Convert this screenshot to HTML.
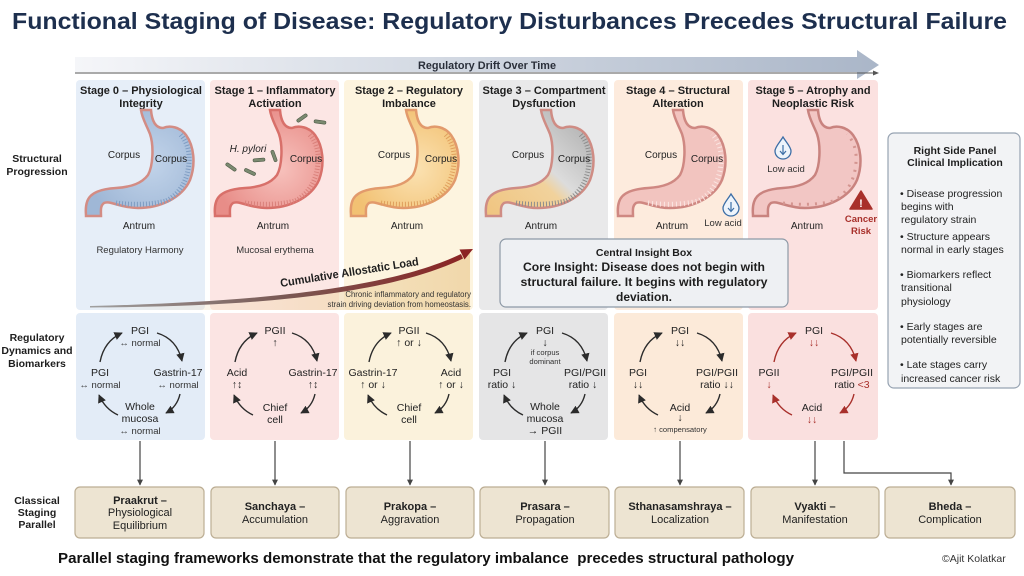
<!DOCTYPE html>
<html><head><meta charset="utf-8">
<style>
html,body{margin:0;padding:0;background:#fff;}
svg{display:block;}
text{font-family:"Liberation Sans",Arial,sans-serif;fill:#222;}
.t{font-size:11px;font-weight:bold;text-anchor:middle;fill:#1e1e1e;}
.row{font-size:10.5px;font-weight:bold;text-anchor:middle;fill:#1e1e1e;}
.l{font-size:10.5px;text-anchor:middle;fill:#222;}
.s{font-size:9.5px;text-anchor:middle;fill:#333;}
.xs{font-size:7.6px;text-anchor:middle;fill:#333;}
.c{font-size:10px;text-anchor:middle;fill:#222;}
.bx{font-size:11px;text-anchor:middle;fill:#222;}
.bb{font-size:11px;font-weight:bold;text-anchor:middle;fill:#222;}
.rp{font-size:10.5px;fill:#222;}
.red{fill:#a8302b;}
</style></head><body>
<svg width="1024" height="576" viewBox="0 0 1024 576" xmlns="http://www.w3.org/2000/svg">
<defs>
 <linearGradient id="band" x1="0" y1="0" x2="1" y2="0">
  <stop offset="0" stop-color="#f5f6f9"/><stop offset="1" stop-color="#aab6c8"/>
 </linearGradient>
 <linearGradient id="tan" x1="90" y1="0" x2="470" y2="0" gradientUnits="userSpaceOnUse">
  <stop offset="0" stop-color="#f0d6a8" stop-opacity="0"/><stop offset="0.45" stop-color="#f0d6a8" stop-opacity="0.35"/><stop offset="1" stop-color="#f0d6a8" stop-opacity="0.95"/>
 </linearGradient>
 <linearGradient id="load" x1="90" y1="0" x2="470" y2="0" gradientUnits="userSpaceOnUse">
  <stop offset="0" stop-color="#a0a0a0"/><stop offset="0.5" stop-color="#7a5a55"/><stop offset="1" stop-color="#8b2222"/>
 </linearGradient>
 <linearGradient id="s3" x1="0" y1="1" x2="1" y2="0">
  <stop offset="0" stop-color="#f0c47f"/><stop offset="0.42" stop-color="#f1d29c"/><stop offset="0.52" stop-color="#dcdcdc"/><stop offset="1" stop-color="#a8a8a8"/>
 </linearGradient>
 <radialGradient id="s1g" cx="0.6" cy="0.55" r="0.6">
  <stop offset="0" stop-color="#f7c2bd"/><stop offset="1" stop-color="#e88d88"/>
 </radialGradient>
 <radialGradient id="s2g" cx="0.6" cy="0.55" r="0.6">
  <stop offset="0" stop-color="#fbe2b2"/><stop offset="1" stop-color="#f2c173"/>
 </radialGradient>
 <radialGradient id="s0g" cx="0.6" cy="0.5" r="0.6">
  <stop offset="0" stop-color="#c2d4ea"/><stop offset="1" stop-color="#9fb7d6"/>
 </radialGradient>
 <marker id="a" viewBox="0 0 10 10" refX="9" refY="5" markerWidth="6" markerHeight="6" orient="auto"><path d="M0,0L10,5L0,10z" fill="#2b2b2b"/></marker>
 <marker id="ar" viewBox="0 0 10 10" refX="9" refY="5" markerWidth="6" markerHeight="6" orient="auto"><path d="M0,0L10,5L0,10z" fill="#a8302b"/></marker>
 <marker id="ad" viewBox="0 0 10 10" refX="9" refY="5" markerWidth="5" markerHeight="5" orient="auto"><path d="M0,0L10,5L0,10z" fill="#444"/></marker>
</defs>

<!-- Title -->
<text x="12" y="29" font-size="23" font-weight="bold" style="fill:#1d2f4e" textLength="995" lengthAdjust="spacingAndGlyphs">Functional Staging of Disease: Regulatory Disturbances Precedes Structural Failure</text>

<!-- Regulatory drift band -->
<path d="M75,57 L857,57 L857,50 L879,65 L857,79 L857,72 L75,72 Z" fill="url(#band)"/>
<line x1="75" y1="73" x2="874" y2="73" stroke="#555" stroke-width="0.9"/>
<path d="M873,70.5 L879,73 L873,75.5 Z" fill="#555"/>
<text x="487" y="69" font-size="11" font-weight="bold" text-anchor="middle" style="fill:#2a2f3a" textLength="138" lengthAdjust="spacingAndGlyphs">Regulatory Drift Over Time</text>

<!-- Top panels -->
<rect x="76" y="80" width="129" height="230" rx="4" fill="#e6eef8"/>
<rect x="210" y="80" width="129" height="230" rx="4" fill="#fce6e4"/>
<rect x="344" y="80" width="129" height="230" rx="4" fill="#fdf4df"/>
<rect x="479" y="80" width="129" height="230" rx="4" fill="#e9e9ea"/>
<rect x="614" y="80" width="129" height="230" rx="4" fill="#fdebdd"/>
<rect x="748" y="80" width="130" height="230" rx="4" fill="#fbe1e0"/>

<!-- Lower panels -->
<rect x="76" y="313" width="129" height="127" rx="4" fill="#e3ecf7"/>
<rect x="210" y="313" width="129" height="127" rx="4" fill="#fbe4e3"/>
<rect x="344" y="313" width="129" height="127" rx="4" fill="#fbf2dc"/>
<rect x="479" y="313" width="129" height="127" rx="4" fill="#e5e5e6"/>
<rect x="614" y="313" width="129" height="127" rx="4" fill="#fcead9"/>
<rect x="748" y="313" width="130" height="127" rx="4" fill="#fae0df"/>

<!-- Row labels -->
<text class="row" x="37" y="162">Structural</text>
<text class="row" x="37" y="175">Progression</text>
<text class="row" x="37" y="341">Regulatory</text>
<text class="row" x="37" y="354">Dynamics and</text>
<text class="row" x="37" y="367">Biomarkers</text>
<text class="row" x="37" y="504">Classical</text>
<text class="row" x="37" y="516">Staging</text>
<text class="row" x="37" y="528">Parallel</text>

<!-- Stage titles -->
<text class="t" x="141" y="94" textLength="122" lengthAdjust="spacingAndGlyphs">Stage 0 – Physiological</text>
<text class="t" x="141" y="107">Integrity</text>
<text class="t" x="275" y="94" textLength="121" lengthAdjust="spacingAndGlyphs">Stage 1 – Inflammatory</text>
<text class="t" x="275" y="107">Activation</text>
<text class="t" x="409" y="94" textLength="108" lengthAdjust="spacingAndGlyphs">Stage 2 – Regulatory</text>
<text class="t" x="409" y="107">Imbalance</text>
<text class="t" x="544" y="94" textLength="123" lengthAdjust="spacingAndGlyphs">Stage 3 – Compartment</text>
<text class="t" x="544" y="107">Dysfunction</text>
<text class="t" x="678" y="94" textLength="104" lengthAdjust="spacingAndGlyphs">Stage 4 – Structural</text>
<text class="t" x="678" y="107">Alteration</text>
<text class="t" x="813" y="94" textLength="115" lengthAdjust="spacingAndGlyphs">Stage 5 – Atrophy and</text>
<text class="t" x="813" y="107">Neoplastic Risk</text>

<!-- Stomachs -->
<g transform="translate(76,110)">
 <path d="M65,0 C66,8 70,14 74,24 C78,36 77,56 72,65 C66,73 56,77 40,78 C26,79 14,82 11,92 C9,98 10,102 10,106 L25,106 C25,101 24,96 28,93 C34,90 44,98 62,98 C84,98 106,88 114,70 C120,54 118,36 110,25 C104,17 94,15 87,18 C80,18 76,12 75,0 Z" fill="url(#s0g)" stroke="#d38c84" stroke-width="2.5"/>
 <path d="M40,93 C55,95 75,95 90,91 C104,84 112,70 113,52 C114,40 110,30 104,24" fill="none" stroke="#7e9cc2" stroke-width="5" stroke-dasharray="1 2"/>
</g>
<g transform="translate(205,110)">
 <path d="M65,0 C66,8 70,14 74,24 C78,36 77,56 72,65 C66,73 56,77 40,78 C26,79 14,82 11,92 C9,98 10,102 10,106 L25,106 C25,101 24,96 28,93 C34,90 44,98 62,98 C84,98 106,88 114,70 C120,54 118,36 110,25 C104,17 94,15 87,18 C80,18 76,12 75,0 Z" fill="url(#s1g)" stroke="#d8706a" stroke-width="2.5"/>
 <path d="M40,93 C55,95 75,95 90,91 C104,84 112,70 113,52 C114,40 110,30 104,24" fill="none" stroke="#d9807a" stroke-width="5" stroke-dasharray="1 2"/>
</g>
<g transform="translate(341,110)">
 <path d="M65,0 C66,8 70,14 74,24 C78,36 77,56 72,65 C66,73 56,77 40,78 C26,79 14,82 11,92 C9,98 10,102 10,106 L25,106 C25,101 24,96 28,93 C34,90 44,98 62,98 C84,98 106,88 114,70 C120,54 118,36 110,25 C104,17 94,15 87,18 C80,18 76,12 75,0 Z" fill="url(#s2g)" stroke="#e29a6c" stroke-width="2.5"/>
 <path d="M40,93 C55,95 75,95 90,91 C104,84 112,70 113,52 C114,40 110,30 104,24" fill="none" stroke="#df9f5c" stroke-width="5" stroke-dasharray="1 2"/>
</g>
<g transform="translate(476,110)">
 <path d="M65,0 C66,8 70,14 74,24 C78,36 77,56 72,65 C66,73 56,77 40,78 C26,79 14,82 11,92 C9,98 10,102 10,106 L25,106 C25,101 24,96 28,93 C34,90 44,98 62,98 C84,98 106,88 114,70 C120,54 118,36 110,25 C104,17 94,15 87,18 C80,18 76,12 75,0 Z" fill="url(#s3)" stroke="#cf8c84" stroke-width="2.5"/>
 <path d="M40,93 C55,95 75,95 90,91 C104,84 112,70 113,52 C114,40 110,30 104,24" fill="none" stroke="#8c8c8c" stroke-width="5" stroke-dasharray="1 2"/>
</g>
<g transform="translate(608,110)">
 <path d="M65,0 C66,8 70,14 74,24 C78,36 77,56 72,65 C66,73 56,77 40,78 C26,79 14,82 11,92 C9,98 10,102 10,106 L25,106 C25,101 24,96 28,93 C34,90 44,98 62,98 C84,98 106,88 114,70 C120,54 118,36 110,25 C104,17 94,15 87,18 C80,18 76,12 75,0 Z" fill="#f2c4bf" stroke="#cf8882" stroke-width="2.5"/>
 <path d="M40,93 C55,95 75,95 90,91 C104,84 112,70 113,52 C114,40 110,30 104,24" fill="none" stroke="#fbe6e3" stroke-width="5" stroke-dasharray="1 3"/>
</g>
<g transform="translate(743,110)">
 <path d="M65,0 C66,8 70,14 74,24 C78,36 77,56 72,65 C66,73 56,77 40,78 C26,79 14,82 11,92 C9,98 10,102 10,106 L25,106 C25,101 24,96 28,93 C34,90 44,98 62,98 C84,98 106,88 114,70 C120,54 118,36 110,25 C104,17 94,15 87,18 C80,18 76,12 75,0 Z" fill="#f2c6c4" stroke="#c9837f" stroke-width="2.5"/>
 <path d="M40,93 C55,95 75,95 90,91 C104,84 112,70 113,52 C114,40 110,30 104,24" fill="none" stroke="#d49590" stroke-width="3" stroke-dasharray="2 6"/>
</g>

<!-- Bacteria (H. pylori) -->
<g fill="#7b8a70" stroke="#4e5a47" stroke-width="0.6">
 <rect x="-6" y="-1.6" width="12" height="3.2" rx="1.6" transform="translate(231,167) rotate(35)"/>
 <rect x="-6" y="-1.6" width="12" height="3.2" rx="1.6" transform="translate(250,172) rotate(25)"/>
 <rect x="-6" y="-1.6" width="12" height="3.2" rx="1.6" transform="translate(259,160) rotate(-5)"/>
 <rect x="-6" y="-1.6" width="12" height="3.2" rx="1.6" transform="translate(274,156) rotate(70)"/>
 <rect x="-6" y="-1.6" width="12" height="3.2" rx="1.6" transform="translate(302,118) rotate(-35)"/>
 <rect x="-6" y="-1.6" width="12" height="3.2" rx="1.6" transform="translate(320,122) rotate(8)"/>
</g>
<text x="248" y="152" font-size="10" font-style="italic" text-anchor="middle">H. pylori</text>

<!-- Stomach labels -->
<text class="c" x="124" y="158">Corpus</text><text class="c" x="171" y="162">Corpus</text><text class="c" x="139" y="229">Antrum</text>
<text class="s" x="140" y="253">Regulatory Harmony</text>
<text class="c" x="306" y="162">Corpus</text><text class="c" x="273" y="229">Antrum</text>
<text class="s" x="275" y="253">Mucosal erythema</text>
<text class="c" x="394" y="158">Corpus</text><text class="c" x="441" y="162">Corpus</text><text class="c" x="407" y="229">Antrum</text>
<text class="c" x="528" y="158">Corpus</text><text class="c" x="574" y="162">Corpus</text><text class="c" x="541" y="229">Antrum</text>
<text class="c" x="661" y="158">Corpus</text><text class="c" x="707" y="162">Corpus</text><text class="c" x="672" y="229">Antrum</text>
<text class="c" x="807" y="229">Antrum</text>

<!-- Drops -->
<g fill="#eef4fb" stroke="#3c6ea6" stroke-width="1.3">
 <path d="M731,194 C734,199 739,204 739,208 A8,8 0 0 1 723,208 C723,204 728,199 731,194 Z"/>
 <path d="M783,137 C786,142 791,147 791,151 A8,8 0 0 1 775,151 C775,147 780,142 783,137 Z"/>
</g>
<g stroke="#3c6ea6" stroke-width="1.2" fill="none">
 <line x1="731" y1="202" x2="731" y2="211"/><path d="M728,208 L731,211.5 L734,208"/>
 <line x1="783" y1="145" x2="783" y2="154"/><path d="M780,151 L783,154.5 L786,151"/>
</g>
<text class="s" x="723" y="226">Low acid</text>
<text class="s" x="786" y="172">Low acid</text>

<!-- Cancer risk -->
<path d="M861,191 L872,209 L850,209 Z" fill="#a8302b" stroke="#a8302b" stroke-width="1.5" stroke-linejoin="round"/>
<text x="861" y="207" font-size="11" font-weight="bold" text-anchor="middle" style="fill:#fff">!</text>
<text x="861" y="222" font-size="9.5" font-weight="bold" text-anchor="middle" class="red">Cancer</text>
<text x="861" y="234" font-size="9.5" font-weight="bold" text-anchor="middle" class="red">Risk</text>

<!-- Allostatic load -->
<path d="M90,308 C260,304 390,290 470,252 L470,310 L90,310 Z" fill="url(#tan)"/>
<path d="M90,306 C260,302 390,288 461,254 L463,258.5 C392,293 262,307 90,307.5 Z" fill="url(#load)"/>
<path d="M473,249 L459.5,249.5 L464.5,259.5 Z" fill="#8b2222"/>
<text transform="translate(350,276) rotate(-9)" font-size="11.5" font-weight="bold" text-anchor="middle" style="fill:#1e1e1e" textLength="140" lengthAdjust="spacingAndGlyphs">Cumulative Allostatic Load</text>
<text x="471" y="297" font-size="7.8" text-anchor="end" style="fill:#333">Chronic inflammatory and regulatory</text>
<text x="471" y="307" font-size="7.8" text-anchor="end" style="fill:#333">strain driving deviation from homeostasis.</text>

<!-- Central insight box -->
<rect x="500" y="239" width="288" height="68" rx="6" fill="#eef0f3" stroke="#8d99a6" stroke-width="1.2"/>
<text x="644" y="256" font-size="10.5" font-weight="bold" text-anchor="middle" style="fill:#1e1e1e">Central Insight Box</text>
<text x="644" y="271" font-size="12" font-weight="bold" text-anchor="middle" style="fill:#1e1e1e" textLength="242" lengthAdjust="spacingAndGlyphs">Core Insight: Disease does not begin with</text>
<text x="644" y="286" font-size="12" font-weight="bold" text-anchor="middle" style="fill:#1e1e1e" textLength="247" lengthAdjust="spacingAndGlyphs">structural failure. It begins with regulatory</text>
<text x="644" y="301" font-size="12" font-weight="bold" text-anchor="middle" style="fill:#1e1e1e">deviation.</text>

<!-- Right side panel -->
<rect x="888" y="133" width="132" height="255" rx="6" fill="#f2f3f5" stroke="#97a3b2" stroke-width="1.2"/>
<text x="955" y="154" font-size="10.5" font-weight="bold" text-anchor="middle" style="fill:#1e1e1e">Right Side Panel</text>
<text x="955" y="166" font-size="10.5" font-weight="bold" text-anchor="middle" style="fill:#1e1e1e">Clinical Implication</text>
<text class="rp" x="900" y="197">• Disease progression</text>
<text class="rp" x="901" y="210">begins with</text>
<text class="rp" x="901" y="223">regulatory strain</text>
<text class="rp" x="900" y="240">• Structure appears</text>
<text class="rp" x="901" y="253">normal in early stages</text>
<text class="rp" x="900" y="278">• Biomarkers reflect</text>
<text class="rp" x="901" y="291">transitional</text>
<text class="rp" x="901" y="305">physiology</text>
<text class="rp" x="900" y="330">• Early stages are</text>
<text class="rp" x="901" y="343">potentially reversible</text>
<text class="rp" x="900" y="368">• Late stages carry</text>
<text class="rp" x="901" y="382">increased cancer risk</text>

<!-- Cycle arrows -->
<g fill="none" stroke="#2b2b2b" stroke-width="1.4" marker-end="url(#a)">
 <g>
  <path d="M157,333 Q177,339 182,361"/>
  <path d="M180,394 Q177,407 166,413"/>
  <path d="M118,415 Q105,409 99,395"/>
  <path d="M100,362 Q104,341 122,333"/>
 </g>
 <g transform="translate(135,0)">
  <path d="M157,333 Q177,339 182,361"/><path d="M180,394 Q177,407 166,413"/><path d="M118,415 Q105,409 99,395"/><path d="M100,362 Q104,341 122,333"/>
 </g>
 <g transform="translate(269,0)">
  <path d="M157,333 Q177,339 182,361"/><path d="M180,394 Q177,407 166,413"/><path d="M118,415 Q105,409 99,395"/><path d="M100,362 Q104,341 122,333"/>
 </g>
 <g transform="translate(405,0)">
  <path d="M157,333 Q177,339 182,361"/><path d="M180,394 Q177,407 166,413"/><path d="M118,415 Q105,409 99,395"/><path d="M100,362 Q104,341 122,333"/>
 </g>
 <g transform="translate(540,0)">
  <path d="M157,333 Q177,339 182,361"/><path d="M180,394 Q177,407 166,413"/><path d="M118,415 Q105,409 99,395"/><path d="M100,362 Q104,341 122,333"/>
 </g>
</g>
<g fill="none" stroke="#a8302b" stroke-width="1.4" marker-end="url(#ar)" transform="translate(674,0)">
 <path d="M157,333 Q177,339 182,361"/><path d="M180,394 Q177,407 166,413"/><path d="M118,415 Q105,409 99,395"/><path d="M100,362 Q104,341 122,333"/>
</g>

<!-- Stage 0 cycle labels -->
<text class="l" x="140" y="334">PGI</text><text class="s" x="140" y="346">↔ normal</text>
<text class="l" x="100" y="376">PGI</text><text class="s" x="100" y="388">↔ normal</text>
<text class="l" x="178" y="376">Gastrin-17</text><text class="s" x="178" y="388">↔ normal</text>
<text class="l" x="140" y="410">Whole</text><text class="l" x="140" y="422">mucosa</text><text class="s" x="140" y="434">↔ normal</text>
<!-- Stage 1 -->
<text class="l" x="275" y="334">PGII</text><text class="l" x="275" y="346">↑</text>
<text class="l" x="237" y="376">Acid</text><text class="l" x="237" y="388">↑↕</text>
<text class="l" x="313" y="376">Gastrin-17</text><text class="l" x="313" y="388">↑↕</text>
<text class="l" x="275" y="411">Chief</text><text class="l" x="275" y="423">cell</text>
<!-- Stage 2 -->
<text class="l" x="409" y="334">PGII</text><text class="l" x="409" y="346">↑ or ↓</text>
<text class="l" x="373" y="376">Gastrin-17</text><text class="l" x="373" y="388">↑ or ↓</text>
<text class="l" x="451" y="376">Acid</text><text class="l" x="451" y="388">↑ or ↓</text>
<text class="l" x="409" y="411">Chief</text><text class="l" x="409" y="423">cell</text>
<!-- Stage 3 -->
<text class="l" x="545" y="334">PGI</text><text class="l" x="545" y="346">↓</text>
<text class="xs" x="545" y="355">if corpus</text><text class="xs" x="545" y="364">dominant</text>
<text class="l" x="502" y="376">PGI</text><text class="l" x="502" y="388">ratio ↓</text>
<text class="l" x="585" y="376">PGI/PGII</text><text class="l" x="583" y="388">ratio ↓</text>
<text class="l" x="545" y="410">Whole</text><text class="l" x="545" y="422">mucosa</text><text class="l" x="545" y="434">→ PGII</text>
<!-- Stage 4 -->
<text class="l" x="680" y="334">PGI</text><text class="l" x="680" y="346">↓↓</text>
<text class="l" x="638" y="376">PGI</text><text class="l" x="638" y="388">↓↓</text>
<text class="l" x="717" y="376">PGI/PGII</text><text class="l" x="717" y="388">ratio ↓↓</text>
<text class="l" x="680" y="411">Acid</text><text class="l" x="680" y="421">↓</text>
<text class="xs" x="680" y="432">↑ compensatory</text>
<!-- Stage 5 -->
<text class="l" x="814" y="334">PGI</text><text class="l red" x="814" y="346">↓↓</text>
<text class="l" x="769" y="376">PGII</text><text class="l red" x="769" y="388">↓</text>
<text class="l" x="852" y="376">PGI/PGII</text><text class="l" x="852" y="388">ratio <tspan class="red">&lt;3</tspan></text>
<text class="l" x="812" y="411">Acid</text><text class="l red" x="812" y="423">↓↓</text>

<!-- Connectors -->
<g stroke="#444" stroke-width="1.2" fill="none" marker-end="url(#ad)">
 <line x1="140" y1="441" x2="140" y2="485"/>
 <line x1="275" y1="441" x2="275" y2="485"/>
 <line x1="410" y1="441" x2="410" y2="485"/>
 <line x1="545" y1="441" x2="545" y2="485"/>
 <line x1="680" y1="441" x2="680" y2="485"/>
 <line x1="815" y1="441" x2="815" y2="485"/>
 <path d="M844,441 L844,473 L951,473 L951,485"/>
</g>

<!-- Classical staging boxes -->
<g fill="#ede4d2" stroke="#bcae94" stroke-width="1.2">
 <rect x="75" y="487" width="129" height="51" rx="5"/>
 <rect x="211" y="487" width="128" height="51" rx="5"/>
 <rect x="346" y="487" width="128" height="51" rx="5"/>
 <rect x="480" y="487" width="129" height="51" rx="5"/>
 <rect x="615" y="487" width="129" height="51" rx="5"/>
 <rect x="751" y="487" width="128" height="51" rx="5"/>
 <rect x="885" y="487" width="130" height="51" rx="5"/>
</g>
<text class="bb" x="140" y="504">Praakrut –</text><text class="bx" x="140" y="516">Physiological</text><text class="bx" x="140" y="529">Equilibrium</text>
<text class="bb" x="275" y="510">Sanchaya –</text><text class="bx" x="275" y="523">Accumulation</text>
<text class="bb" x="410" y="510">Prakopa –</text><text class="bx" x="410" y="523">Aggravation</text>
<text class="bb" x="545" y="510">Prasara –</text><text class="bx" x="545" y="523">Propagation</text>
<text class="bb" x="680" y="510">Sthanasamshraya –</text><text class="bx" x="680" y="523">Localization</text>
<text class="bb" x="815" y="510">Vyakti –</text><text class="bx" x="815" y="523">Manifestation</text>
<text class="bb" x="950" y="510">Bheda –</text><text class="bx" x="950" y="523">Complication</text>

<!-- Caption -->
<text x="58" y="563" font-size="14.5" font-weight="bold" style="fill:#111" textLength="736" lengthAdjust="spacingAndGlyphs">Parallel staging frameworks demonstrate that the regulatory imbalance&#160; precedes structural pathology</text>
<text x="942" y="562" font-size="10.5" style="fill:#333">©Ajit Kolatkar</text>
</svg>
</body></html>
